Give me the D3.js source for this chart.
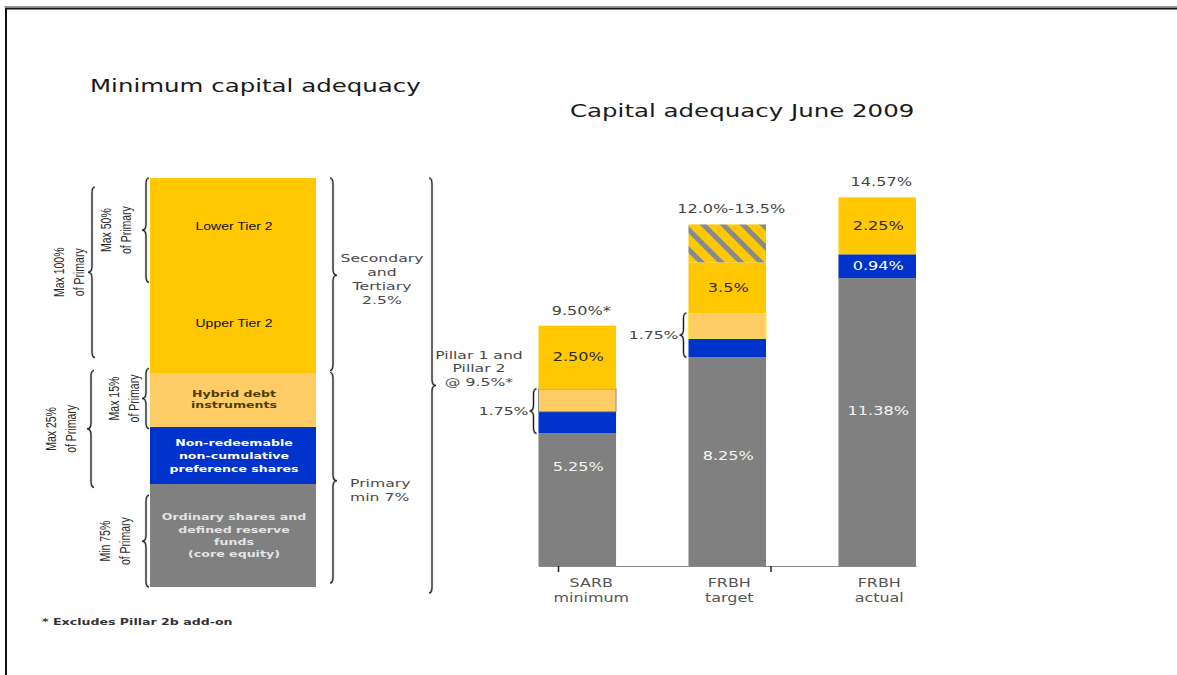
<!DOCTYPE html>
<html>
<head>
<meta charset="utf-8">
<script src="https://cdn.jsdelivr.net/npm/d3@7/dist/d3.min.js"></script>
<style>
  html, body { margin: 0; padding: 0; background: #fff; }
  svg { display: block; }
</style>
</head>
<body>
<script>
// ---- Capital adequacy, June 2009 (values in % of risk-weighted assets) ----
const categories   = ["SARB minimum", "FRBH target", "FRBH actual"];
const categoryRows = [["SARB", "minimum"], ["FRBH", "target"], ["FRBH", "actual"]];
const coreEquity   = [5.25, 8.25, 11.38];   // ordinary shares and reserves
const preference   = [0.85, 0.75, 0.94];    // non-redeemable non-cumulative preference shares
const hybridDebt   = [0.90, 1.00, 0.00];    // hybrid debt instruments
const tier2        = [2.50, 2.00, 2.25];    // secondary and tertiary capital
const tier2Range   = [0.00, 1.50, 0.00];    // upper end of the target range
const totalLabels  = ["9.50%*", "12.0%-13.5%", "14.57%"];
const coreLabels   = ["5.25%", "8.25%", "11.38%"];
const tier2Labels  = ["2.50%", "3.5%", "2.25%"];
const prefLabels   = ["", "", "0.94%"];
const braceLabels  = ["1.75%", "1.75%", ""];

// ---- Minimum capital adequacy schematic, listed top to bottom (relative block heights) ----
const blockNames  = ["Lower Tier 2", "Upper Tier 2", "Hybrid debt instruments",
                     "Non-redeemable non-cumulative preference shares",
                     "Ordinary shares and defined reserve funds (core equity)"];
const blockLines  = [["Lower Tier 2"], ["Upper Tier 2"], ["Hybrid debt", "instruments"],
                     ["Non-redeemable", "non-cumulative", "preference shares"],
                     ["Ordinary shares and", "defined reserve", "funds", "(core equity)"]];
const blockUnits  = [1.8, 1.8, 1.0, 1.07, 1.9];

const W = 1177, H = 675;
const C = {
  yellow: "#ffc800", hybrid: "#ffcc66", blue: "#0033cc", grey: "#808080",
  hatch: "#8a8a8a", ink: "#1e1e1e", soft: "#4a4a4a"
};
const SX = 1.4; // horizontal text stretch

const svg = d3.select("body").append("svg").attr("width", W).attr("height", H);

// frame
svg.append("line").attr("x1", 4).attr("x2", W).attr("y1", 6.5).attr("y2", 6.5)
  .attr("stroke", "#9a9a9a").attr("stroke-width", 1);
svg.append("line").attr("x1", 5).attr("x2", W).attr("y1", 8.5).attr("y2", 8.5)
  .attr("stroke", "#111").attr("stroke-width", 2);
svg.append("line").attr("x1", 6).attr("x2", 6).attr("y1", 8).attr("y2", H)
  .attr("stroke", "#111").attr("stroke-width", 2);

const defs = svg.append("defs");
const pat = defs.append("pattern").attr("id", "hatch")
  .attr("patternUnits", "userSpaceOnUse").attr("width", 14).attr("height", 14)
  .attr("patternTransform", "rotate(-45)");
pat.append("rect").attr("width", 14).attr("height", 14).attr("fill", C.yellow);
pat.append("rect").attr("width", 5).attr("height", 14).attr("fill", C.hatch);

// text helper: stretched horizontally, optional rotation, multi-line
function label(g, lines, x, y, o = {}) {
  lines = [].concat(lines);
  const size = o.size || 11;
  const lh = o.lh || size * 1.2;
  let y0 = 0;
  if (o.vcenter) y0 = -(lines.length - 1) * lh / 2 + 0.36 * size;
  const t = g.append("text")
    .attr("transform", `translate(${x},${y}) scale(${o.sx ?? SX},1)` + (o.rot ? ` rotate(${o.rot})` : ""))
    .attr("font-family", o.family || "'DejaVu Sans', Verdana, sans-serif")
    .attr("font-size", size)
    .attr("font-weight", o.weight || "normal")
    .attr("fill", o.fill || C.ink)
    .attr("text-anchor", o.anchor || "middle");
  lines.forEach((s, i) => t.append("tspan").attr("x", 0).attr("y", y0 + i * lh).text(s));
  return t;
}

// curly brace: dir -1 tip points left, +1 tip points right
function brace(g, x, y0, y1, dir, tip) {
  const w = 4, h = 3, r = Math.min(6, (y1 - y0) / 4);
  const m = tip ?? (y0 + y1) / 2;
  const p = d3.path();
  p.moveTo(x - dir * h, y0);
  p.quadraticCurveTo(x, y0, x, y0 + r);
  p.lineTo(x, m - r);
  p.quadraticCurveTo(x, m, x + dir * w, m);
  p.quadraticCurveTo(x, m, x, m + r);
  p.lineTo(x, y1 - r);
  p.quadraticCurveTo(x, y1, x - dir * h, y1);
  g.append("path").attr("d", p.toString()).attr("fill", "none")
    .attr("stroke", "#9a9a9a").attr("stroke-width", 2.4).attr("opacity", 0.6);
  g.append("path").attr("d", p.toString()).attr("fill", "none")
    .attr("stroke", "#1a1a1a").attr("stroke-width", 1.1);
}

// ================= Left panel: minimum capital adequacy =================
const left = svg.append("g");
label(left, "Minimum capital adequacy", 90, 92, { size: 17.5, anchor: "start", fill: "#1a1a1a" });

const blockFill = [C.yellow, C.yellow, C.hybrid, C.blue, C.grey];
const blockText = [
  { fill: "#111", family: "'Liberation Sans', Arial, sans-serif", size: 10, lh: 12 },
  { fill: "#111", family: "'Liberation Sans', Arial, sans-serif", size: 10, lh: 12 },
  { fill: "#4d3d00", weight: "bold", size: 9, lh: 11.5 },
  { fill: "#ffffff", weight: "bold", size: 9, lh: 13 },
  { fill: "#e4e4e4", weight: "bold", size: 9, lh: 12.3 }
];
const unitEnds = d3.cumsum(blockUnits);
const yl = d3.scaleLinear().domain([0, d3.sum(blockUnits)]).range([178, 587]);
const bx0 = 150, bx1 = 316;
blockNames.forEach((name, i) => {
  const a = i ? unitEnds[i - 1] : 0, b = unitEnds[i];
  left.append("rect").attr("x", bx0).attr("width", bx1 - bx0)
    .attr("y", Math.round(yl(a))).attr("height", Math.round(yl(b)) - Math.round(yl(a)))
    .attr("fill", blockFill[i]).attr("shape-rendering", "crispEdges").attr("data-name", name);
});
blockNames.forEach((name, i) => {
  const a = i ? unitEnds[i - 1] : 0, b = unitEnds[i];
  const cy = (yl(a) + yl(b)) / 2;
  label(left, blockLines[i], (bx0 + bx1) / 2 + 1, cy, Object.assign({ vcenter: true }, blockText[i]));
});

// block boundaries (in px)
const yTop = yl(0);                    // top of Tier 2
const yLowerEnd = yl(unitEnds[0]);     // bottom of Lower Tier 2
const yTier2End = yl(unitEnds[1]);     // bottom of Upper Tier 2
const yHybEnd = yl(unitEnds[2]);       // bottom of hybrid
const yPrefEnd = yl(unitEnds[3]);      // bottom of preference
const yBase = yl(unitEnds[4]);

const rot = { rot: -90, family: "'Liberation Sans', Arial, sans-serif", size: 10.5, lh: 14.3, fill: "#2a2a2a", vcenter: true };
const leftBraces = [
  { x: 146, y0: yTop, y1: yLowerEnd + 7, text: ["Max 50%", "of Primary"], lx: 115.5 },
  { x: 92, y0: yTop + 9, y1: yTier2End - 15, text: ["Max 100%", "of Primary"], lx: 69 },
  { x: 146, y0: yTier2End - 4, y1: yHybEnd + 2, text: ["Max 15%", "of Primary"], lx: 124 },
  { x: 91, y0: yTier2End - 2, y1: yPrefEnd + 3, text: ["Max 25%", "of Primary"], lx: 60.5 },
  { x: 146, y0: yPrefEnd + 11, y1: yBase, text: ["Min 75%", "of Primary"], lx: 115 }
];
leftBraces.forEach(b => {
  const tip = (b.y0 + b.y1) / 2;
  brace(left, b.x, b.y0, b.y1, -1, tip);
  label(left, b.text, b.lx, tip, rot);
});

// right-hand braces of the schematic
const secTip = (yTop + yTier2End) / 2;
brace(left, 333, yTop, yTier2End - 2, 1, secTip);
label(left, ["Secondary", "and", "Tertiary", "2.5%"], 382, secTip + 4,
  { size: 11.2, lh: 14, fill: C.soft, vcenter: true });

const priTip = (yTier2End + yBase) / 2 + 1;
brace(left, 333, yTier2End, yBase - 4, 1, priTip);
label(left, ["Primary", "min 7%"], 350, priTip + 6, { size: 11.2, lh: 14.5, fill: C.soft, anchor: "start" });

const pilTip = (yTop + yBase + 6) / 2;
brace(left, 432, yTop, yBase + 6, 1, pilTip);
label(left, ["Pillar 1 and", "Pillar 2", "@ 9.5%*"], 479, pilTip - 27, { size: 11.2, lh: 14, fill: C.soft });

label(left, "* Excludes Pillar 2b add-on", 42, 625, { size: 9, weight: "bold", anchor: "start", fill: "#333" });

// ================= Right panel: capital adequacy June 2009 =================
const right = svg.append("g");
label(right, "Capital adequacy June 2009", 570, 117, { size: 17.5, anchor: "start", fill: "#1a1a1a" });

const x = d3.scaleBand().domain(categories).range([538.5, 916]).paddingInner(0.483).paddingOuter(0);
const y = d3.scaleLinear().domain([0, 15]).range([566, 186.5]);

const rows = categories.map((c, i) => {
  const segs = [
    { key: "core", v: coreEquity[i], fill: C.grey },
    { key: "pref", v: preference[i], fill: C.blue },
    { key: "hybrid", v: hybridDebt[i], fill: C.hybrid },
    { key: "tier2", v: tier2[i], fill: C.yellow },
    { key: "range", v: tier2Range[i], fill: "url(#hatch)" }
  ];
  let acc = 0;
  segs.forEach(s => { s.lo = acc; acc += s.v; s.hi = acc; });
  return { cat: c, i, segs, total: acc };
});

const barG = right.append("g");
rows.forEach(r => {
  barG.selectAll(null).data(r.segs.filter(s => s.v > 0)).join("rect")
    .attr("x", x(r.cat)).attr("width", x.bandwidth())
    .attr("y", s => y(s.hi)).attr("height", s => y(s.lo) - y(s.hi))
    .attr("fill", s => s.fill)
    .attr("stroke", s => s.key === "hybrid" ? (r.i === 0 ? "#8c8c8c" : "#ffee33") : "none")
    .attr("stroke-width", 1);
});

// axis
const axis = right.append("g").attr("transform", `translate(0,${y(0)})`)
  .call(d3.axisBottom(x).tickSize(0).tickSizeOuter(0).tickFormat(""));
axis.select(".domain").attr("stroke", "#8a8a8a").attr("stroke-width", 1.2);
[x(categories[0]) + 20, x(categories[1]) + x.bandwidth() + 5].forEach(tx => {
  right.append("line").attr("x1", tx).attr("x2", tx).attr("y1", y(0)).attr("y2", y(0) + 6)
    .attr("stroke", "#222").attr("stroke-width", 1.5);
});
rows.forEach(r => {
  label(right, categoryRows[r.i], x(r.cat) + x.bandwidth() / 2 + (r.i === 0 ? 14 : 2), 587,
    { size: 11.4, lh: 15, fill: "#555" });
});

// value labels
const coreLabelFrac = [0.25, 0.47, 0.46];
rows.forEach(r => {
  const cx = x(r.cat) + x.bandwidth() / 2 + 1;
  const seg = k => r.segs.find(s => s.key === k);
  const core = seg("core"), pref = seg("pref"), hyb = seg("hybrid"), t2 = seg("tier2");

  label(right, totalLabels[r.i], cx + 3, y(r.total) - 11, { size: 11.5, fill: "#444" });

  const cTop = y(core.hi), cH = y(core.lo) - y(core.hi);
  label(right, coreLabels[r.i], cx, cTop + cH * coreLabelFrac[r.i], { size: 11.5, fill: "#f5f5f5", vcenter: true });

  label(right, tier2Labels[r.i], cx, (y(t2.lo) + y(t2.hi)) / 2, { size: 11.5, fill: "#2a2a2a", vcenter: true });

  if (prefLabels[r.i]) {
    label(right, prefLabels[r.i], cx, (y(pref.lo) + y(pref.hi)) / 2, { size: 11.5, fill: "#ffffff", vcenter: true });
  }
  if (braceLabels[r.i]) {
    const b0 = y(hyb.hi), b1 = y(pref.lo);
    const bx = x(r.cat) - 5;
    brace(right, bx, b0, b1, -1, (b0 + b1) / 2);
    label(right, braceLabels[r.i], bx - 5, (b0 + b1) / 2, { size: 11.2, fill: "#444", anchor: "end", vcenter: true });
  }
});
</script>
</body>
</html>
